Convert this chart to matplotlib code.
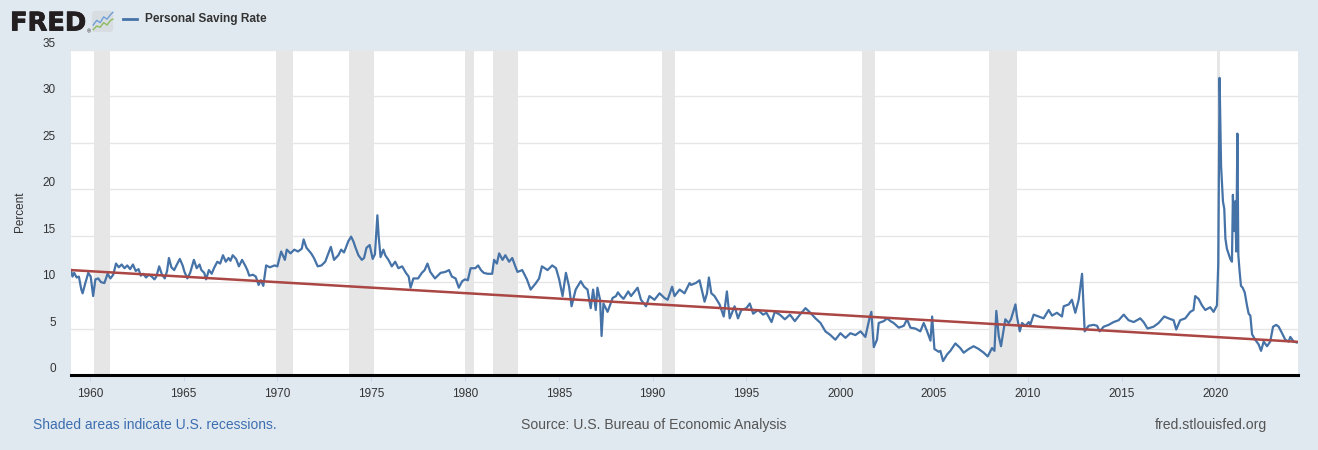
import numpy as np
import matplotlib.pyplot as plt
import matplotlib.patheffects as pe
from matplotlib.lines import Line2D
from matplotlib.patches import FancyBboxPatch

plt.rcParams['font.family'] = ['Liberation Sans', 'DejaVu Sans']

# Personal saving rate (decimal year, percent)
dates_60s = [1959.00, 1959.08, 1959.17, 1959.30, 1959.42, 1959.55, 1959.62, 1959.75, 1959.92,
             1960.05, 1960.18, 1960.30, 1960.45, 1960.60, 1960.78, 1960.95,
             1961.10, 1961.25, 1961.40, 1961.55, 1961.70, 1961.85,
             1962.00, 1962.15, 1962.30, 1962.45, 1962.60, 1962.72, 1962.85,
             1963.00, 1963.15, 1963.30, 1963.45, 1963.55, 1963.70, 1963.85,
             1964.00, 1964.12, 1964.22, 1964.35, 1964.50, 1964.62, 1964.80, 1964.95,
             1965.05, 1965.20, 1965.35, 1965.55, 1965.70, 1965.85, 1965.95,
             1966.10, 1966.20, 1966.35, 1966.50, 1966.62, 1966.80, 1966.95,
             1967.10, 1967.25, 1967.40, 1967.50, 1967.62, 1967.80, 1967.95,
             1968.12, 1968.28, 1968.40, 1968.50, 1968.70, 1968.85,
             1969.00, 1969.12, 1969.25, 1969.40, 1969.60, 1969.85]
rate_60s = [11.3, 10.6, 11.0, 10.5, 10.6, 9.2, 8.8, 9.8, 11.0,
            10.6, 8.5, 10.3, 10.4, 10.0, 9.9, 10.9,
            10.4, 10.8, 12.0, 11.6, 11.9, 11.5,
            11.8, 11.4, 11.9, 11.2, 11.4, 10.7, 10.9,
            10.5, 10.8, 10.6, 10.3, 10.6, 11.7, 10.8,
            10.4, 11.2, 12.6, 11.6, 11.3, 11.8, 12.5, 11.8,
            11.1, 10.4, 11.0, 12.4, 11.5, 11.9, 11.3,
            11.0, 10.3, 11.3, 10.9, 11.5, 12.2, 12.0,
            12.9, 12.2, 12.6, 12.3, 12.9, 12.5, 11.7,
            12.4, 11.8, 11.3, 10.7, 10.8, 10.6,
            9.7, 10.2, 9.6, 11.8, 11.6, 11.8]

dates_70s = [1970.00, 1970.20, 1970.40, 1970.50, 1970.70, 1970.90,
             1971.10, 1971.30, 1971.40, 1971.55, 1971.80, 1971.95,
             1972.15, 1972.35, 1972.55, 1972.85,
             1973.02, 1973.25, 1973.40, 1973.55, 1973.65, 1973.78, 1973.93,
             1974.05, 1974.15, 1974.32, 1974.50, 1974.62, 1974.75, 1974.92,
             1975.08, 1975.20, 1975.33, 1975.40, 1975.50, 1975.65, 1975.75, 1975.92,
             1976.10, 1976.28, 1976.45, 1976.65, 1976.85,
             1977.00, 1977.10, 1977.25, 1977.50, 1977.70, 1977.85,
             1978.00, 1978.15, 1978.40, 1978.70, 1978.95,
             1979.15, 1979.30, 1979.50, 1979.67, 1979.85]
rate_70s = [11.7, 13.3, 12.4, 13.5, 13.1, 13.5,
            13.3, 13.6, 14.6, 13.7, 13.1, 12.6,
            11.7, 11.8, 12.2, 13.8,
            12.4, 12.9, 13.5, 13.2, 13.7, 14.4, 14.9,
            14.4, 13.8, 12.9, 12.4, 12.6, 13.7, 14.0,
            12.5, 13.0, 17.2, 14.9, 12.7, 13.5, 12.9, 12.4,
            11.7, 12.2, 11.5, 11.7, 11.0,
            10.6, 9.4, 10.4, 10.4, 11.0, 11.3,
            12.0, 11.1, 10.4, 11.0, 11.1,
            11.3, 10.6, 10.4, 9.4, 10.1]

dates_80s = [1980.00, 1980.15, 1980.30, 1980.55, 1980.70, 1980.85,
             1981.00, 1981.20, 1981.45, 1981.55, 1981.70, 1981.82,
             1982.00, 1982.15, 1982.35, 1982.52, 1982.70, 1982.80,
             1983.05, 1983.30, 1983.50, 1983.78, 1983.95,
             1984.10, 1984.40, 1984.65, 1984.85,
             1985.02, 1985.20, 1985.38, 1985.55, 1985.68, 1985.90,
             1986.17, 1986.35, 1986.53, 1986.70, 1986.83, 1986.97,
             1987.06, 1987.20, 1987.28, 1987.38, 1987.60, 1987.87,
             1988.05, 1988.15, 1988.30, 1988.45, 1988.58, 1988.70, 1988.85,
             1989.20, 1989.38, 1989.65, 1989.83]
rate_80s = [10.3, 10.2, 11.5, 11.5, 11.8, 11.3,
            11.0, 10.9, 10.9, 12.4, 12.0, 13.1,
            12.4, 12.9, 12.2, 12.6, 11.6, 11.1,
            11.3, 10.3, 9.2, 9.9, 10.4,
            11.7, 11.3, 11.8, 11.5,
            10.3, 8.5, 11.0, 9.5, 7.4, 9.2,
            10.1, 9.5, 9.2, 7.2, 9.2, 7.0,
            9.4, 8.1, 4.2, 7.7, 6.8, 8.3,
            8.5, 8.9, 8.5, 8.2, 8.6, 9.0, 8.5,
            9.4, 8.1, 7.4, 8.5]

dates_90s = [1990.10, 1990.37, 1990.63, 1990.80,
             1991.04, 1991.17, 1991.44, 1991.70, 1991.97,
             1992.05, 1992.30, 1992.50, 1992.77, 1992.90,
             1993.00, 1993.13, 1993.30, 1993.57, 1993.79, 1993.96,
             1994.11, 1994.37, 1994.55, 1994.73,
             1995.00, 1995.18, 1995.36, 1995.62, 1995.89,
             1996.07, 1996.34, 1996.51, 1996.78,
             1997.05, 1997.32, 1997.58, 1997.85,
             1998.15, 1998.41, 1998.68, 1998.95,
             1999.21, 1999.48, 1999.74]
rate_90s = [8.1, 8.8, 8.3, 8.1,
            9.5, 8.5, 9.2, 8.8, 9.9,
            9.7, 9.9, 10.2, 7.9, 8.8,
            10.5, 8.8, 8.5, 7.6, 6.3, 9.0,
            6.1, 7.4, 6.1, 7.0,
            7.2, 7.7, 6.6, 7.0, 6.5,
            6.7, 5.7, 6.8, 6.5,
            6.0, 6.5, 5.8, 6.5,
            7.2, 6.7, 6.1, 5.6,
            4.7, 4.3, 3.8]

dates_00s = [2000.01, 2000.28, 2000.54, 2000.81,
             2001.08, 2001.34, 2001.56, 2001.66, 2001.79, 2001.96,
             2002.05, 2002.32, 2002.50, 2002.68, 2002.85,
             2003.12, 2003.39, 2003.56, 2003.74,
             2004.01, 2004.27, 2004.45, 2004.63, 2004.81, 2004.90,
             2005.02, 2005.25, 2005.34, 2005.48, 2005.69, 2005.87,
             2006.14, 2006.40, 2006.58, 2006.85,
             2007.11, 2007.38, 2007.65, 2007.86,
             2008.09, 2008.22, 2008.32, 2008.45, 2008.57, 2008.80, 2008.98,
             2009.10, 2009.34, 2009.42, 2009.57, 2009.69, 2009.87]
rate_00s = [4.5, 4.0, 4.5, 4.3,
            4.7, 4.1, 6.1, 6.8, 3.0, 3.8,
            5.6, 5.8, 6.1, 5.8, 5.6,
            5.1, 5.3, 6.0, 5.1,
            5.0, 4.7, 5.6, 4.7, 3.7, 6.3,
            2.8, 2.5, 2.6, 1.5, 2.2, 2.6,
            3.4, 2.9, 2.4, 2.8,
            3.1, 2.8, 2.4, 2.0,
            2.9, 2.6, 6.9, 4.2, 3.1, 6.0, 5.6,
            6.0, 7.6, 6.3, 4.7, 5.6, 5.3]

dates_10s = [2010.05, 2010.13, 2010.31, 2010.58, 2010.84,
             2011.11, 2011.29, 2011.55, 2011.82, 2011.91,
             2012.18, 2012.35, 2012.53, 2012.71, 2012.89,
             2013.03, 2013.24, 2013.51, 2013.69, 2013.83,
             2014.04, 2014.31, 2014.57, 2014.84,
             2015.11, 2015.37, 2015.64, 2015.99,
             2016.17, 2016.38, 2016.70, 2016.97,
             2017.27, 2017.50, 2017.77, 2017.91,
             2018.12, 2018.39, 2018.66, 2018.83, 2018.92,
             2019.10, 2019.28, 2019.46, 2019.72, 2019.90]
rate_10s = [5.7, 5.4, 6.5, 6.3, 6.1,
            7.0, 6.4, 6.7, 6.3, 7.4,
            7.6, 8.1, 6.7, 8.1, 10.9,
            4.7, 5.3, 5.4, 5.3, 4.7,
            5.2, 5.4, 5.7, 5.9,
            6.5, 5.9, 5.7, 6.1,
            5.7, 5.0, 5.2, 5.6,
            6.3, 6.1, 5.9, 4.9,
            5.9, 6.1, 6.8, 7.0, 8.5,
            8.2, 7.5, 7.0, 7.3, 6.8]

dates_20s = [2020.08, 2020.15, 2020.22, 2020.30, 2020.40, 2020.47, 2020.53, 2020.61, 2020.79, 2020.88,
             2020.93, 2020.99, 2021.05, 2021.11, 2021.17, 2021.22, 2021.29, 2021.36, 2021.45,
             2021.56, 2021.68, 2021.77, 2021.86, 2021.95,
             2022.12, 2022.30, 2022.43, 2022.57, 2022.75, 2022.92,
             2023.07, 2023.24, 2023.37, 2023.55, 2023.72, 2023.90, 2023.99,
             2024.17, 2024.33]
rate_20s = [7.5, 12.0, 32.0, 22.5, 18.7, 17.9, 14.7, 13.6, 12.5, 12.2,
            19.4, 15.5, 18.7, 13.3, 26.0, 12.9, 11.1, 9.6, 9.4,
            8.9, 7.5, 6.6, 6.4, 4.4,
            3.8, 3.3, 2.6, 3.6, 3.1, 3.6,
            5.2, 5.4, 5.2, 4.5, 3.8, 3.6, 4.1,
            3.6, 3.5]

# linear trend drawn on the chart
trend_x = [1959.0, 2024.33]
trend_y = [11.3, 3.58]

# NBER recessions
recession_start = [1960.25, 1969.92, 1973.83, 1980.00, 1981.50, 1990.50, 2001.17, 2007.92, 2020.08]
recession_end = [1961.08, 1970.83, 1975.17, 1980.50, 1982.83, 1991.17, 2001.83, 2009.42, 2020.25]

y_ticks = [0, 5, 10, 15, 20, 25, 30, 35]
x_ticks = list(range(1960, 2021, 5))

dates = np.concatenate([dates_60s, dates_70s, dates_80s, dates_90s, dates_00s, dates_10s, dates_20s])
rate = np.concatenate([rate_60s, rate_70s, rate_80s, rate_90s, rate_00s, rate_10s, rate_20s])

W, H = 1318, 450
bg = '#e1e9f0'
fig = plt.figure(figsize=(W / 100, H / 100), dpi=100, facecolor=bg)
ax = fig.add_axes([71 / W, 1 - 375 / H, 1227 / W, 325 / H])
ax.set_facecolor('white')

for s, e in zip(recession_start, recession_end):
    ax.axvspan(s, e, color='#e6e6e6', lw=0, zorder=0)

ax.plot(dates, rate, color='#4572a7', lw=1.6, zorder=3, solid_joinstyle='round')
ax.plot(trend_x, trend_y, color='#aa4643', lw=1.8, zorder=4)

ax.set_xlim(1959.0, 2024.4)
ax.set_ylim(0, 35)
ax.set_yticks(y_ticks)
ax.set_xticks(x_ticks)
ax.grid(axis='y', color='#e6e6e6', lw=1)
ax.set_axisbelow(True)

for side in ['left', 'top', 'right']:
    ax.spines[side].set_visible(False)
ax.spines['bottom'].set_color('black')
ax.spines['bottom'].set_linewidth(2.2)
ax.spines['bottom'].set_zorder(5)

ax.tick_params(axis='y', length=0, pad=11, labelsize=8.5, labelcolor='#333333')
ax.tick_params(axis='x', length=4, width=0.8, color='#ccd6eb', direction='out',
               pad=5.5, labelsize=8.5, labelcolor='#333333')
for lbl in ax.get_yticklabels():
    lbl.set_verticalalignment('bottom')

fig.text(20 / W, 1 - 212 / H, 'Percent', rotation=90, ha='center', va='center',
         fontsize=8.5, color='#333333')

# header: FRED logo, icon and legend
fig.text(10 / W, 1 - 23.5 / H, 'FRED', fontsize=18.5, fontweight='bold', color='#231f20',
         family='DejaVu Sans', ha='left', va='center',
         path_effects=[pe.withStroke(linewidth=0.6, foreground='#231f20')])
fig.text(87 / W, 1 - 32 / H, '\u00ae', fontsize=4, color='#231f20', ha='left', va='center')
icon = fig.add_axes([91 / W, 1 - 33 / H, 23 / W, 23 / H])
icon.set_xlim(0, 1)
icon.set_ylim(0, 1)
icon.axis('off')
icon.add_patch(FancyBboxPatch((0.04, 0.04), 0.92, 0.92, boxstyle='round,pad=0,rounding_size=0.12',
                              fc='#d8dde2', ec='none'))
icon_x = [0.1, 0.25, 0.4, 0.55, 0.7, 0.85, 0.95]
icon_blue = [0.35, 0.55, 0.45, 0.7, 0.6, 0.8, 0.9]
icon_green = [0.15, 0.3, 0.25, 0.45, 0.35, 0.55, 0.6]
icon.plot(icon_x, icon_blue, color='#6f9fd8', lw=1.0)
icon.plot(icon_x, icon_green, color='#8dbb5c', lw=1.0)

fig.add_artist(Line2D([123 / W, 137 / W], [1 - 19 / H, 1 - 19 / H], color='#4572a7', lw=2))
fig.text(145 / W, 1 - 19 / H, 'Personal Saving Rate', fontsize=8.6, fontweight='bold',
         color='#333333', ha='left', va='center')

# footer
fig.text(33 / W, 1 - 425 / H, 'Shaded areas indicate U.S. recessions.', fontsize=10,
         color='#3d6eb0', ha='left', va='center')
fig.text(654 / W, 1 - 425 / H, 'Source: U.S. Bureau of Economic Analysis', fontsize=10.1,
         color='#555555', ha='center', va='center')
fig.text(1267 / W, 1 - 425 / H, 'fred.stlouisfed.org', fontsize=10.1,
         color='#555555', ha='right', va='center')

fig.savefig('out.png', dpi=100, facecolor=bg)
